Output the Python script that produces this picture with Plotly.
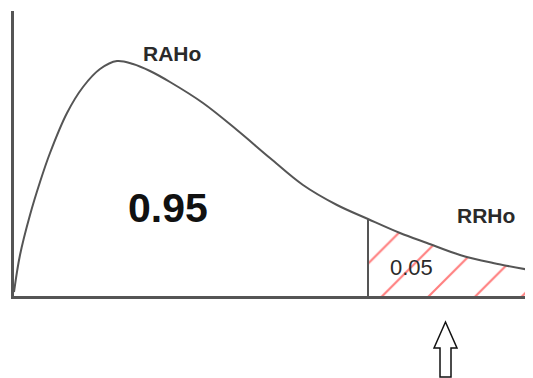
import plotly.graph_objects as go
import numpy as np

# Density curve (x in arbitrary statistic units, y = density)
curve_x = [0, 0.15, 0.4, 0.65, 0.9, 1.325, 1.725, 2.15, 2.575, 2.975, 3.4, 3.9, 4.725,
           5.575, 6.4, 7.225, 8.075, 8.85, 9.65, 10.325, 11.15, 11.975, 12.9]
curve_y = [0.004, 0.041, 0.081, 0.114, 0.143, 0.183, 0.209, 0.227, 0.235, 0.232, 0.225, 0.214,
           0.193, 0.166, 0.138, 0.111, 0.091, 0.077, 0.063, 0.053, 0.041, 0.033, 0.026]
critical_x = 8.85
labels = {"accept": "RAHo", "accept_p": "0.95", "reject": "RRHo", "reject_p": "0.05"}

cx = np.array(curve_x)
cy = np.array(curve_y)
tail = cx >= critical_x
tail_x = cx[tail]
tail_y = cy[tail]
crit_y = float(np.interp(critical_x, cx, cy))

LINE = "#555555"
FONT = "Liberation Sans, Arial, sans-serif"

fig = go.Figure()
fig.add_trace(go.Scatter(
    x=tail_x, y=tail_y, mode="lines", line=dict(width=0, shape="spline"),
    fill="tozeroy", fillcolor="rgba(0,0,0,0)",
    fillpattern=dict(shape="/", fgcolor="#ff0000", bgcolor="rgba(0,0,0,0)", size=33, solidity=0.065),
    hoverinfo="skip", showlegend=False))
fig.add_trace(go.Scatter(
    x=cx, y=cy, mode="lines", line=dict(color=LINE, width=2, shape="spline", smoothing=1),
    hoverinfo="skip", showlegend=False))
fig.add_trace(go.Scatter(
    x=[critical_x, critical_x], y=[0, crit_y], mode="lines", line=dict(color=LINE, width=2),
    hoverinfo="skip", showlegend=False))

# the page body has an 8px margin, so the figure is offset by 8px
OFF = 8
W, H = 533 - OFF, 378 - OFF
ml, mr, mt, mb = 14 - OFF, 3, 11 - OFF, 82
fig.update_layout(
    width=W, height=H, margin=dict(l=ml, r=mr, t=mt, b=mb, pad=0),
    paper_bgcolor="white", plot_bgcolor="white", showlegend=False,
    xaxis=dict(range=[0, 12.9], showline=True, linecolor=LINE, linewidth=2.5, showgrid=False,
               zeroline=False, showticklabels=False, ticks=""),
    yaxis=dict(range=[0, 0.285], showline=True, linecolor=LINE, linewidth=2.5, showgrid=False,
               zeroline=False, showticklabels=False, ticks=""),
    font=dict(family=FONT, color="#222222"),
)

fig.add_annotation(x=3.95, y=0.243, text="<b>%s</b>" % labels["accept"], showarrow=False,
                   font=dict(size=21, family=FONT, color="#2a2a2a"))
fig.add_annotation(x=3.85, y=0.0885, text="<b>%s</b>" % labels["accept_p"], showarrow=False,
                   font=dict(size=41, family=FONT, color="#111111"))
fig.add_annotation(x=11.8, y=0.081, text="<b>%s</b>" % labels["reject"], showarrow=False,
                   font=dict(size=21, family=FONT, color="#2a2a2a"))
fig.add_annotation(x=9.925, y=0.029, text=labels["reject_p"], showarrow=False,
                   font=dict(size=22, family=FONT, color="#2a2a2a"))

# hollow up arrow below the rejection region (window pixels -> paper coordinates)
pw, ph = W - ml - mr, H - mt - mb
def px(x):
    return (x - OFF - ml) / pw
def py(y):
    return (H - mb - (y - OFF)) / ph
pts = [(445.5, 322), (457, 348), (451, 348), (451, 377), (440, 377), (440, 348), (434, 348)]
path = "M " + " L ".join("%.4f,%.4f" % (px(a), py(b)) for a, b in pts) + " Z"
fig.add_shape(type="path", xref="paper", yref="paper", path=path,
              line=dict(color="#111111", width=1.5), fillcolor="white")

fig.write_html("out.html")
